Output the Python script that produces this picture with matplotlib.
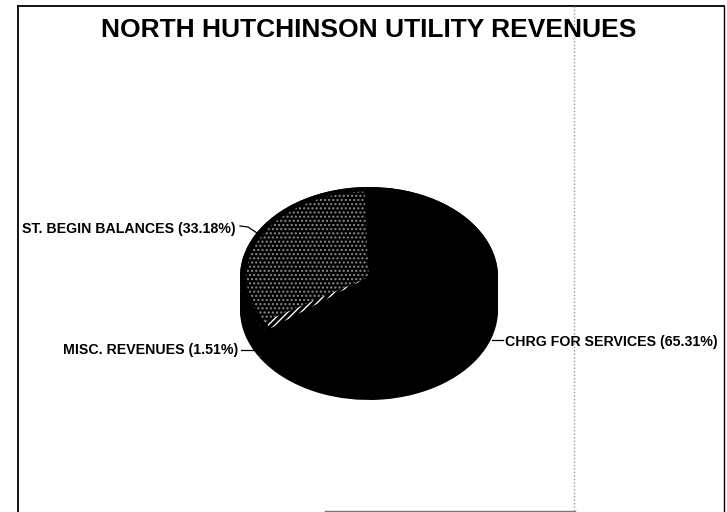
import matplotlib
matplotlib.use("Agg")
import matplotlib.pyplot as plt

plt.rcParams['font.family'] = ['Liberation Sans', 'DejaVu Sans']
plt.rcParams['hatch.linewidth'] = 1.0

# data
labels = ["ST. BEGIN BALANCES (33.18%)", "MISC. REVENUES (1.51%)", "CHRG FOR SERVICES (65.31%)"]
values = [33.18, 1.51, 65.31]
title = "NORTH HUTCHINSON UTILITY REVENUES"

W, H = 727, 512
fig = plt.figure(figsize=(W / 100, H / 100), dpi=100, facecolor="white")

# overlay in pixel coords for frame, text and leaders
bg = fig.add_axes([0, 0, 1, 1])
bg.set_xlim(0, W)
bg.set_ylim(H, 0)
bg.axis("off")

# scan frame
bg.plot([18, 18], [6, 512], color="black", lw=1.3)
bg.plot([18, 724], [6, 6], color="black", lw=1.3)
bg.plot([724, 724], [6, 512], color="black", lw=1.0)
bg.plot([325, 575], [511, 511], color="#777777", lw=1.0)
bg.plot([574, 574], [6, 512], color="#999999", lw=1.0, ls=(0, (1, 1.5)))

bg.text(369, 30, title, ha="center", va="center", fontsize=19, fontweight="bold", color="black")

# pie, squashed into an ellipse with a side wall
cx, cy, rx, ry, depth = 369, 277, 129, 90, 33
ax = fig.add_axes([(cx - 1.25 * rx) / W, 1 - (cy + 1.25 * ry) / H, 2.5 * rx / W, 2.5 * ry / H])
ax.patch.set_alpha(0)
for d in range(depth, 0, -3):
    ax.pie(values, startangle=92, center=(0, -d / ry), colors=["black"] * 3)
wedges, _ = ax.pie(values, startangle=92, colors=["black"] * 3)
wedges[0].set(facecolor="black", edgecolor="#8c8c8c", hatch="....", lw=0)
wedges[1].set(facecolor="black", edgecolor="white", hatch="/////", lw=0)
# black rim, the speckle stops short of the outer edge
ax.pie(values, startangle=92, colors=["black"] * 3, wedgeprops={"width": 0.05})
ax.set_aspect("auto")
ax.set_xlim(-1.25, 1.25)
ax.set_ylim(-1.25, 1.25)
ax.axis("off")
for p in ax.patches:
    p.set_clip_on(False)

# labels and leaders
bg.text(22, 229, labels[0], ha="left", va="center", fontsize=10.2, fontweight="bold")
bg.plot([240, 248, 257], [226, 227, 233], color="black", lw=0.9)
bg.text(63, 350, labels[1], ha="left", va="center", fontsize=10.2, fontweight="bold")
bg.plot([241, 258], [350, 350], color="black", lw=0.9)
bg.text(505, 342, labels[2], ha="left", va="center", fontsize=10.2, fontweight="bold")
bg.plot([492, 503], [340, 340], color="black", lw=0.9)

fig.savefig("out.png", dpi=100)
